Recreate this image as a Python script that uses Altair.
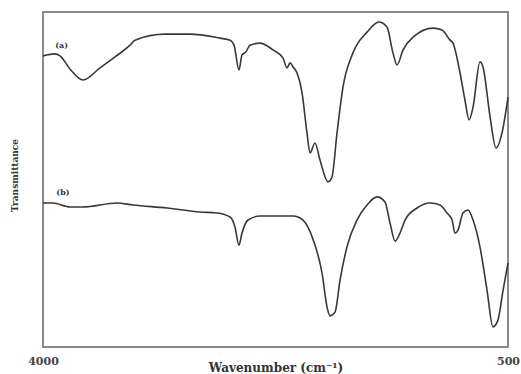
import altair as alt
import pandas as pd

# Curve (a)
wn_a = [4000, 3910, 3872, 3797, 3699, 3571, 3458, 3345, 3308, 3082, 2894, 2668, 2592, 2562,
        2525, 2502, 2472, 2442, 2367, 2269, 2194, 2163, 2141, 2118, 2088, 2050, 2013, 1990,
        1953, 1915, 1855, 1825, 1787, 1742, 1667, 1561, 1471, 1411, 1366, 1335, 1290, 1215,
        1064, 997, 936, 914, 861, 824, 793, 763, 711, 688, 635, 590, 545, 500]
t_a = [86.9, 87.5, 86.9, 83.0, 79.7, 83.3, 86.6, 90.1, 91.6, 93.4, 93.4, 92.2, 91.6, 90.1,
       82.7, 87.2, 88.1, 90.1, 90.7, 88.7, 86.3, 83.3, 84.8, 83.6, 81.8, 75.8, 63.9, 57.9,
       60.9, 55.8, 49.3, 50.7, 63.9, 77.6, 87.8, 94.0, 97.0, 95.5, 87.8, 84.2, 88.7, 92.5,
       95.2, 94.6, 91.6, 90.7, 81.8, 73.7, 67.8, 71.6, 85.1, 83.6, 68.7, 59.4, 63.9, 74.6]

# Curve (b)
wn_b = [4000, 3925, 3797, 3699, 3443, 3323, 3067, 2818, 2690, 2592, 2555, 2525, 2502, 2457,
        2367, 2118, 2043, 1968, 1900, 1862, 1840, 1802, 1764, 1712, 1637, 1561, 1486, 1426,
        1388, 1350, 1313, 1275, 1185, 1087, 1012, 959, 921, 899, 876, 839, 801, 763, 711,
        658, 613, 575, 537, 500]
t_b = [43.0, 43.0, 41.8, 41.8, 43.0, 42.4, 41.5, 40.3, 40.0, 38.8, 35.8, 30.4, 34.0, 37.9,
       39.1, 39.1, 37.9, 32.2, 22.1, 11.9, 9.3, 10.4, 20.0, 29.9, 37.9, 42.4, 44.8, 43.3,
       37.0, 31.6, 34.0, 37.9, 41.5, 43.0, 42.4, 40.0, 37.9, 34.0, 34.9, 40.0, 40.9, 37.9,
       29.9, 17.0, 6.0, 8.1, 17.0, 25.1]

labels = ["(a)", "(b)"]
label_wn = [3860, 3850]
label_t = [89.8, 46.0]

x_ticks = [4000, 500]

df = pd.concat([
    pd.DataFrame({"wn": wn_a, "t": t_a, "series": "a"}),
    pd.DataFrame({"wn": wn_b, "t": t_b, "series": "b"}),
])
lab_df = pd.DataFrame({"wn": label_wn, "t": label_t, "label": labels})

FONT = "DejaVu Serif"

x_enc = alt.X("wn:Q",
              scale=alt.Scale(domain=[4000, 500], nice=False, zero=False),
              axis=alt.Axis(values=x_ticks, title="Wavenumber (cm⁻¹)", format="d",
                            grid=False, domain=False, ticks=False,
                            labelFont=FONT, labelFontSize=11, labelFontWeight="bold",
                            labelColor="#444444", labelPadding=8, labelFlush=False,
                            titleFont=FONT, titleFontSize=12, titleFontWeight="bold",
                            titleColor="#333333", titleY=20, titleBaseline="middle"))
y_enc = alt.Y("t:Q",
              scale=alt.Scale(domain=[0, 100], nice=False, zero=False),
              axis=alt.Axis(labels=False, ticks=False, grid=False, domain=False,
                            title="Transmittance", titleFont=FONT, titleFontSize=9,
                            titleFontWeight="bold", titleColor="#333333",
                            titleX=-24, titleY=163, titleAngle=-90))

lines = alt.Chart(df).mark_line(color="#383838", strokeWidth=1.6,
                                interpolate="monotone").encode(
    x=x_enc, y=y_enc, detail="series:N")

texts = alt.Chart(lab_df).mark_text(font=FONT, fontSize=8, fontWeight="bold",
                                    color="#333333").encode(
    x="wn:Q", y="t:Q", text="label:N")

chart = (lines + texts).properties(
    width=465, height=335,
    background="white",
    autosize=alt.AutoSizeParams(type="none"),
    padding={"left": 43, "top": 12, "right": 13, "bottom": 27},
).configure_view(stroke="#8a8a8a", strokeWidth=2)

chart.save("out.html", embed_options={"renderer": "svg", "actions": False})
